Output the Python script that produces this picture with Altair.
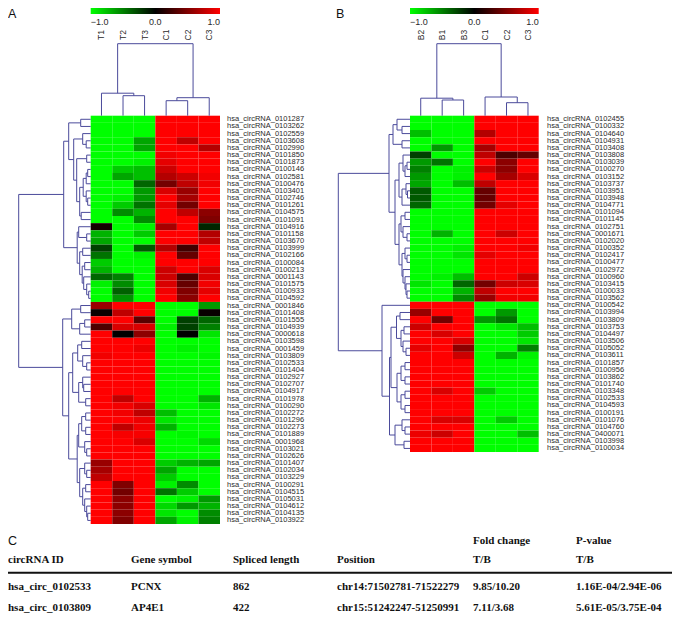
import altair as alt
import pandas as pd

# ---------- panel A ----------
A_samples = ["T1", "T2", "T3", "C1", "C2", "C3"]
A_rows = ["0101287","0103262","0102559","0103608","0102990","0101850","0101873","0100146","0102581","0100476",
          "0103401","0102746","0101261","0104575","0101091","0104916","0101158","0103670","0103999","0102166",
          "0100084","0100213","0001143","0101575","0100933","0104592",
          "0001846","0101408","0101555","0104939","0000618","0103598","0001459","0103809","0102533","0101404",
          "0102927","0102707","0104917","0101978","0100290","0102272","0101296","0102273","0101889","0001968",
          "0103021","0102626","0101407","0102034","0103229","0100291","0104515","0105031","0104612","0104135","0103922"]
A_values = [
 [-1,-1,-1,1,1,1],[-1,-1,-1,1,1,1],[-1,-1,-1,1,1,1],[-1,-1,-.65,1,.75,1],[-1,-1,-.65,1,1,.7],
 [-1,-1,-1,.95,1,1],[-1,-1,-.95,.9,1,1],[-1,-.8,-.75,.8,1,1],[-1,-.65,-.75,.7,.8,.95],[-1,-1,-.4,.45,.75,.95],
 [-1,-1,-.6,.85,.6,1],[-1,-.95,-.6,1,.65,1],[-1,-.8,-.45,.9,.45,1],[-1,-.55,-.7,1,.75,.55],[-1,-1,-.55,1,1,.5],
 [.08,-1,-.95,.65,1,-.15],[-.7,-1,-.8,1,1,.7],[-.65,-1,-1,1,1,.75],[-.25,-1,-.35,.7,.25,1],[-.45,-1,-.95,1,.4,1],
 [-.8,-1,-1,1,1,1],[-.7,-1,-1,.8,1,.85],[-.4,-.5,-1,.8,.3,.85],[-.95,-.55,-1,.85,.4,.95],[-1,-.38,-1,.95,.5,.9],[-1,-.58,-1,1,.55,1],
 [.6,1,1,-1,-1,-.6],[.04,.75,1,-1,-1,.03],[1,1,.35,-1,-.25,-.4],[.3,.85,.85,-.95,-.25,-.5],[1,0,.55,-1,0,-.9],
 [1,1,1,-1,-1,-1],[1,1,.93,-1,-.95,-1],[.95,1,1,-1,-1,-.97],[1,1,1,-1,-1,-1],[1,1,1,-1,-1,-1],
 [1,1,1,-1,-1,-1],[1,1,1,-1,-1,-1],[1,1,1,-1,-1,-1],[1,.75,1,-1,-1,-.7],[1,.95,.85,-1,-1,-.9],
 [1,.95,.75,-.75,-1,-1],[1,1,.93,-.9,-1,-1],[1,.75,.95,-.7,-1,-1],[1,.97,.97,-1,-.97,-1],[1,1,.85,-1,-1,-.85],
 [1,1,1,-1,-1,-1],[1,1,1,-1,-1,-1],[.6,1,1,-.8,-.7,-.65],[.65,1,1,-.65,-1,-1],[.75,1,1,-.8,-1,-1],
 [1,.5,1,-.95,-.55,-1],[1,.45,1,-.45,-.8,-1],[1,.55,1,-1,-.95,-.6],[1,.55,1,-.85,-.6,-.7],[1,.55,1,-.9,-1,-.55],[1,.5,1,-.65,-.95,-.5],
]
# merge trees: [merge height, left child, right child]; leaves are positions in the list above
A_row_tree = [72,
  [27,
    [22, [10,0,1], [17, [8,2,[4.5,3,4]], [14, [4,5,6],
        [11, [7.5,[4.5,[3,7,8],9],[4.5,10,[3,11,12]]], [9.5,13,14]]]]],
    [13.5, [12,15,[4,16,17]], [11,[8,18,19],[8.5,[6,20,21],[7,22,[4,23,[2,24,25]]]]]]],
  [28,
    [19,[10,26,27],[11,[6,28,29],30]],
    [22,
      [18,[13,[9,31,32],[8,33,[4,34,35]]],[12,[8,36,[7,37,38]],[5,39,40]]],
      [13.5,[12,[9,[5,41,42],[5,43,44]],[6,45,[4,46,47]]],
            [11,[6,48,[4,49,50]],[8,[5,51,52],[6,53,[4,54,[3,55,56]]]]]]]]]
A_col_tree = [72, [22.5,0,[20,1,2]], [18,[15,3,4],5]]

# ---------- panel B ----------
B_samples = ["B2", "B1", "B3", "C1", "C2", "C3"]
B_rows = ["0102455","0100332","0104640","0104931","0103408","0103808","0103039","0100270","0103152","0103737",
          "0103951","0103948","0104771","0101094","0101145","0102751","0001671","0102020","0100352","0102417",
          "0100477","0102972","0100960","0103415","0100033","0103562",
          "0100542","0103994","0103809","0103753","0104497","0103506","0105052","0103611","0101857","0100956",
          "0103862","0101740","0103348","0102533","0104593","0100191","0101076","0104760","0400071","0103998","0100034"]
B_values = [
 [-1,-1,-1,1,1,1],[-1,-1,-1,1,1,1],[-.75,-1,-1,.7,1,1],[-1,-1,-1,1,1,1],[-1,-.6,-1,.65,1,1],
 [-.25,-1,-1,.75,.3,.4],[-.6,-.45,-1,1,.55,1],[-.5,-1,-.95,.8,.55,1],[-.6,-1,-.95,1,.65,.85],[-.65,-1,-.75,.75,1,1],
 [-.35,-1,-1,.4,1,1],[-.35,-1,-1,.4,1,1],[-.4,-1,-1,.45,.9,1],[-1,-1,-1,1,1,1],[-1,-1,-1,1,1,1],
 [-1,-1,-1,1,1,1],[-1,-.7,-1,1,.8,1],[-1,-1,-1,1,1,1],[-1,-1,-.95,1,1,.95],[-1,-1,-.9,.9,1,1],
 [-1,-1,-1,1,1,1],[-1,-1,-1,1,1,1],[-1,-.95,-.75,1,1,.8],[-.9,-1,-.4,.45,.8,.85],[-1,-1,-.7,.75,1,1],[-1,-1,-.55,.6,.95,.95],
 [1,1,1,-1,-1,-1],[.6,1,1,-1,-.6,-1],[1,.45,1,-.6,-.45,-1],[.8,1,1,-1,-.9,-.75],[1,.85,1,-1,-1,-.8],
 [1,1,.85,-1,-1,-.9],[.9,1,.55,-1,-1,-.5],[1,1,.8,-1,-.7,-.95],[1,1,1,-1,-1,-1],[1,1,1,-1,-1,-1],
 [1,1,1,-1,-1,-1],[1,1,1,-1,-1,-1],[1,.85,1,-.8,-1,-1],[1,1,1,-1,-1,-1],[1,1,1,-1,-1,-1],
 [1,1,1,-1,-1,-1],[1,.85,.85,-1,-.8,-1],[1,1,1,-1,-1,-1],[.93,.8,1,-1,-1,-.75],[1,1,1,-1,-1,-1],[1,1,1,-1,-1,-1],
]
B_row_tree = [71.7,
  [21,
    [17,[13,0,[8,1,2]],[8,3,4]],
    [15,
      [11,[7,5,[5,[3,6,7],8]],[8,[4,9,[2.5,10,11]],12]],
      [11,[9,[5,13,14],[7,15,[3,16,17]]],[8,[5,18,[3,19,20]],[7,21,[5,22,[4,23,[3,24,25]]]]]]]],
  [28,26,
    [20.5,
      [19,[13.5,[10,27,28],[9,[6,29,30],[7,31,[4,32,33]]]],
          [13,[9,[5,34,35],[5,36,37]],[9,[5,38,39],[5,40,41]]]],
      [15,[8,42,[5,43,44]],[6,45,46]]]]]
B_col_tree = [72, [17.5,0,[15.7,1,2]], [18.7,3,[13,4,5]]]

# ---------- table C ----------
table_cols = ["circRNA ID", "Gene symbol", "Spliced length", "Position", "Fold change", "P-value"]
table_sub = ["", "", "", "", "T/B", "T/B"]
table_rows = [
    ["hsa_circ_0102533", "PCNX", "862", "chr14:71502781-71522279", "9.85/10.20", "1.16E-04/2.94E-06"],
    ["hsa_circ_0103809", "AP4E1", "422", "chr15:51242247-51250991", "7.11/3.68", "5.61E-05/3.75E-04"],
]

# ---------- layout (chart pixels) ----------
W, H = 664, 606
OFF = 8
INK = "#4b4b9b"
TXT = "#2a2a2a"
color_scale = alt.Scale(domain=[-1, 0, 1], range=["#00ff00", "#000000", "#ff0000"], interpolate="rgb")


def tree_segments(tree):
    segs = []
    def walk(node):
        if not isinstance(node, list):
            return node + 0.5, 0.0
        h, left, right = node
        lp, lh = walk(left)
        rp, rh = walk(right)
        segs.append({"p1": lp, "p2": lp, "h1": lh, "h2": h})
        segs.append({"p1": rp, "p2": rp, "h1": rh, "h2": h})
        segs.append({"p1": lp, "p2": rp, "h1": h, "h2": h})
        return (lp + rp) / 2, h
    walk(tree)
    return pd.DataFrame(segs)


def panel(samples, rows, values, row_tree, col_tree, x0, x1, y0, y1, label_x, leg_x):
    long = pd.DataFrame([
        {"sample": s, "row": r, "value": v}
        for r, vals in zip(rows, values) for s, v in zip(samples, vals)
    ])
    xs = alt.Scale(domain=samples, range=[x0, x1], paddingInner=0, paddingOuter=0)
    ys = alt.Scale(domain=rows, range=[y0, y1], paddingInner=0, paddingOuter=0)
    heat = alt.Chart(long).mark_rect(strokeWidth=0).encode(
        x=alt.X("sample:N", scale=xs, axis=None),
        y=alt.Y("row:N", scale=ys, axis=None),
        color=alt.Color("value:Q", scale=color_scale, legend=alt.Legend(
            orient="none", legendX=leg_x, legendY=0, direction="horizontal", title=None,
            gradientLength=x1 - x0, gradientThickness=6, gradientStrokeWidth=0,
            values=[-1, 0, 1], format=".1f", labelFont="Liberation Sans", labelFontSize=9,
            labelColor=TXT, labelOffset=4, tickCount=3)),
    )
    names = alt.Chart(pd.DataFrame({"row": rows, "name": ["hsa_circRNA_" + r for r in rows]})).mark_text(
        align="left", baseline="middle", font="Liberation Sans", fontSize=7.5, color=TXT
    ).encode(x=alt.value(label_x), y=alt.Y("row:N", scale=ys, axis=None), text="name:N")
    cols = alt.Chart(pd.DataFrame({"sample": samples})).mark_text(
        angle=270, align="center", baseline="middle", font="Liberation Sans", fontSize=8.5, color=TXT
    ).encode(x=alt.X("sample:N", scale=xs, axis=None), y=alt.value(27), text="sample:N")

    rs = tree_segments(row_tree)
    rtop = max(rs["h2"])
    rdend = alt.Chart(rs).mark_rule(color=INK, strokeWidth=1).encode(
        x=alt.X("h1:Q", scale=alt.Scale(domain=[0, rtop], range=[x0, x0 - rtop]), axis=None),
        x2="h2:Q",
        y=alt.Y("p1:Q", scale=alt.Scale(domain=[0, len(rows)], range=[y0, y1]), axis=None),
        y2="p2:Q",
    )
    cs = tree_segments(col_tree)
    ctop = max(cs["h2"])
    cdend = alt.Chart(cs).mark_rule(color=INK, strokeWidth=1).encode(
        x=alt.X("p1:Q", scale=alt.Scale(domain=[0, len(samples)], range=[x0, x1]), axis=None),
        x2="p2:Q",
        y=alt.Y("h1:Q", scale=alt.Scale(domain=[0, ctop], range=[y0, y0 - ctop]), axis=None),
        y2="h2:Q",
    )
    return [heat, names, cols, rdend, cdend]


layers = []
layers += panel(A_samples, A_rows, A_values, A_row_tree, A_col_tree, 82.7, 212, 107.7, 516, 219, 82.7)
layers += panel(B_samples, B_rows, B_values, B_row_tree, B_col_tree, 402, 530.7, 107.7, 444, 539, 402)

# panel letters
letters = pd.DataFrame({"t": ["A", "B", "C"], "x": [0, 328, 0], "y": [0, 0, 535 - OFF]})
layers.append(alt.Chart(letters).mark_text(align="left", baseline="top", font="Liberation Sans",
                                           fontSize=12.5, color="#111").encode(
    x=alt.X("x:Q", scale=None), y=alt.Y("y:Q", scale=None), text="t:N"))

# table
col_x = [8, 131, 233, 337, 473, 576]
cells = []
for cx, head, sub in zip(col_x, table_cols, table_sub):
    if sub:
        cells.append({"t": head, "x": cx - OFF, "y": 541 - OFF})
        cells.append({"t": sub, "x": cx - OFF, "y": 560 - OFF})
    else:
        cells.append({"t": head, "x": cx - OFF, "y": 560 - OFF})
for row, ry in zip(table_rows, [587, 608]):
    for cx, val in zip(col_x, row):
        cells.append({"t": val, "x": cx - OFF, "y": ry - OFF})
layers.append(alt.Chart(pd.DataFrame(cells)).mark_text(
    align="left", baseline="middle", font="Liberation Serif", fontWeight="bold", fontSize=11, color="#111"
).encode(x=alt.X("x:Q", scale=None), y=alt.Y("y:Q", scale=None), text="t:N"))
layers.append(alt.Chart(pd.DataFrame({"a": [0], "b": [677 - OFF], "y": [572.7 - OFF]})).mark_rule(
    color="#111", strokeWidth=2).encode(
    x=alt.X("a:Q", scale=None), x2="b:Q", y=alt.Y("y:Q", scale=None)))

chart = alt.layer(*layers).resolve_scale(x="independent", y="independent", color="independent").properties(
    width=W, height=H, padding=0, autosize=alt.AutoSizeParams(type="none"),
).configure_view(stroke=None)

chart.save("out.html", embed_options={"renderer": "svg", "actions": False})
